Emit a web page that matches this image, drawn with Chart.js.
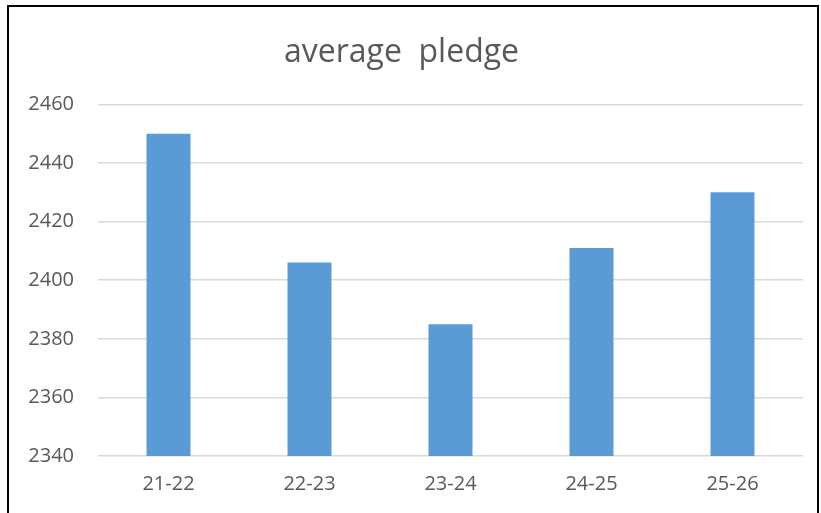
<!DOCTYPE html>
<html lang="en">
<head>
  <meta charset="UTF-8">
  <title>average pledge</title>
  <script src="https://cdn.jsdelivr.net/npm/chart.js"></script>
  <style>
    * {
      margin: 0;
      padding: 0;
      box-sizing: border-box;
    }

    body {
      width: 821px;
      height: 513px;
      overflow: hidden;
      background: #fff;
      position: relative;
    }

    .frame {
      position: absolute;
      left: 7px;
      top: 5px;
      width: 812px;
      height: 530px;
      border: 2px solid #000;
    }

    .chart-box {
      position: absolute;
      left: 0;
      top: 0;
      width: 821px;
      height: 513px;
    }
  </style>
</head>
<body>
  <div class="frame"></div>
  <div class="chart-box">
    <canvas id="pledgeChart"></canvas>
  </div>

  <script>
    const seasons = ['21-22', '22-23', '23-24', '24-25', '25-26'];
    const avgPledge = [2450, 2406, 2385, 2411, 2430];
    const yMin = 2340;
    const yMax = 2460;
    const yStep = 20;

    const font = "'Open Sans', sans-serif";

    new Chart(document.getElementById('pledgeChart').getContext('2d'), {
      type: 'bar',
      data: {
        labels: seasons,
        datasets: [
          {
            label: 'average pledge',
            data: avgPledge,
            backgroundColor: '#5b9bd5',
            borderWidth: 0,
            categoryPercentage: 1,
            barPercentage: 0.312
          }
        ]
      },
      options: {
        responsive: true,
        maintainAspectRatio: false,
        animation: false,
        layout: {
          padding: { left: 0, right: 18, top: 0, bottom: 0 }
        },
        plugins: {
          legend: { display: false },
          tooltip: { enabled: false },
          title: {
            display: true,
            text: 'average  pledge',
            color: '#595959',
            font: { family: font, size: 32, weight: 'normal' },
            padding: { top: 34, bottom: 32 }
          }
        },
        scales: {
          x: {
            grid: { display: false, drawTicks: false },
            border: { display: false },
            ticks: {
              color: '#595959',
              font: { family: font, size: 20, lineHeight: 0.35 },
              padding: 25
            }
          },
          y: {
            min: yMin,
            max: yMax,
            border: { display: false },
            grid: { color: '#d9d9d9', lineWidth: 1.5, drawTicks: false },
            ticks: {
              stepSize: yStep,
              color: '#595959',
              font: { family: font, size: 20 },
              padding: 24,
              callback: (value) => String(value)
            },
            afterFit: (scale) => { scale.width = 98; }
          }
        }
      }
    });
  </script>
</body>
</html>
